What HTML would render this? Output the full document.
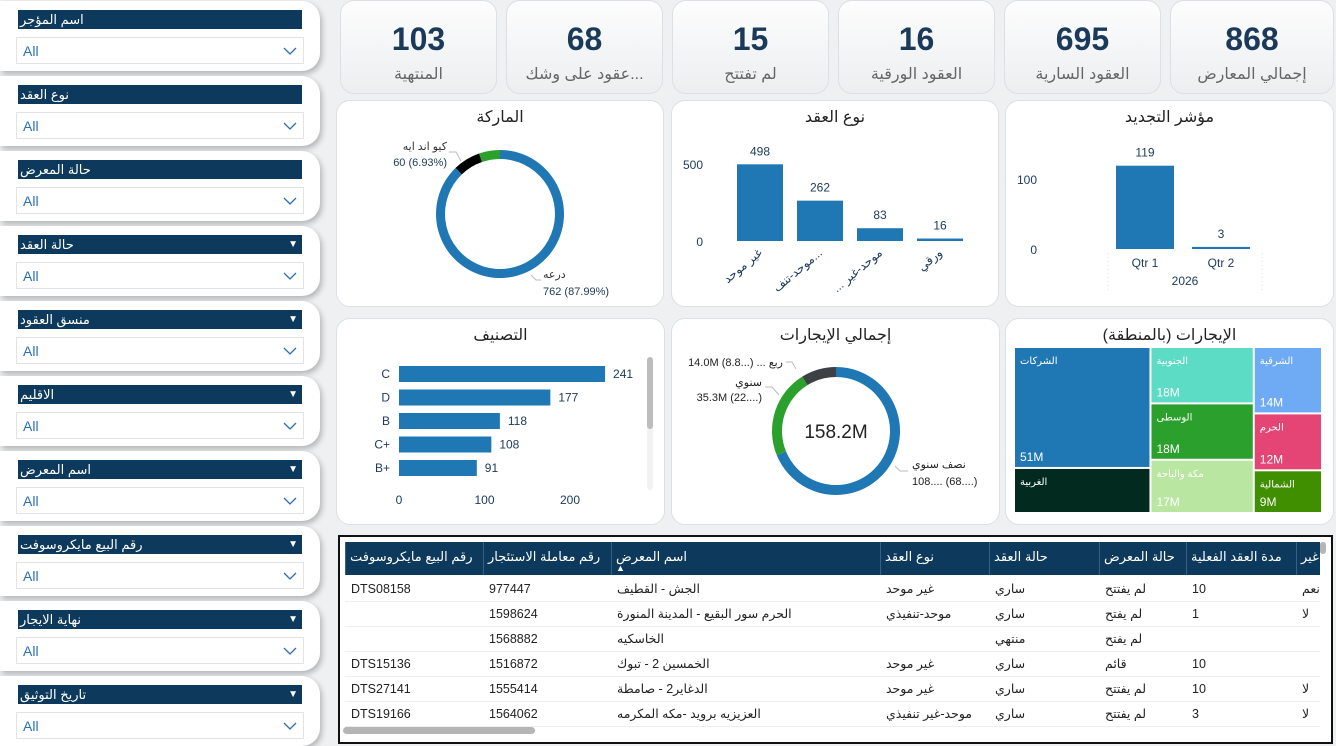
<!DOCTYPE html>
<html lang="ar"><head><meta charset="utf-8">
<style>
*{box-sizing:border-box;margin:0;padding:0}
body{width:1336px;height:745px;overflow:hidden;background:#eef0f2;font-family:"Liberation Sans","DejaVu Sans",sans-serif;position:relative}
.fcard{position:absolute;left:0;width:320px;height:70px;background:#fff;border-radius:0 18px 18px 0;box-shadow:2px 3px 6px rgba(0,0,0,.25)}
.fhead{position:absolute;left:18px;top:9px;width:284px;height:19px;background:#0d3a5c;color:#fff;font-size:13px;line-height:19px;padding-left:2px;direction:rtl;text-align:left}
.fhead .chev{position:absolute;right:4px;top:0;font-size:10px}
.fdrop{position:absolute;left:16px;top:36px;width:288px;height:27px;border:1px solid #e3e3e3;background:#fff;color:#2a6fb5;font-size:14px;line-height:27px;padding-left:6px}
.fdrop svg{position:absolute;right:6px;top:9px}
.kpi{position:absolute;top:0;height:94px;background:linear-gradient(#fdfdfd,#eceef0);border:1px solid #dcdfe3;border-radius:14px;text-align:center}
.kpi .v{position:absolute;left:0;right:0;top:20px;font-size:32px;font-weight:bold;color:#1b3a5a}
.kpi .l{position:absolute;left:0;right:0;top:63px;font-size:16px;color:#666;direction:rtl}
.card{position:absolute;background:#fff;border:1px solid #dcdfe3;border-radius:14px}
.ttl{position:absolute;left:0;right:0;top:6px;text-align:center;font-size:16px;color:#222;direction:rtl}
#table{position:absolute;left:338px;top:535px;width:995px;height:209px;border:2px solid #111;background:#fff;overflow:hidden}
#chartsvg{position:absolute;left:0;top:0}
</style></head><body>
<div id="filters"></div>
<div id="kpis"></div>

<div class="card" style="left:336px;top:100px;width:328px;height:207px"><div class="ttl">الماركة</div></div>
<div class="card" style="left:671px;top:100px;width:328px;height:207px"><div class="ttl">نوع العقد</div></div>
<div class="card" style="left:1005px;top:100px;width:329px;height:207px"><div class="ttl">مؤشر التجديد</div></div>
<div class="card" style="left:336px;top:318px;width:329px;height:207px"><div class="ttl">التصنيف</div></div>
<div class="card" style="left:671px;top:318px;width:329px;height:207px"><div class="ttl">إجمالي الإيجارات</div></div>
<div class="card" style="left:1005px;top:318px;width:329px;height:207px"><div class="ttl">الإيجارات (بالمنطقة)</div></div>

<svg id="chartsvg" width="1336" height="745"></svg>

<div id="table"></div>

<script>
const NS="http://www.w3.org/2000/svg";
const svg=document.getElementById('chartsvg');
function el(tag,attrs,parent,text){const e=document.createElementNS(NS,tag);for(const k in attrs)e.setAttribute(k,attrs[k]);if(text!==undefined)e.textContent=text;(parent||svg).appendChild(e);return e;}

/* ---------- filters ---------- */
const filterTitles=["اسم المؤجر","نوع العقد","حالة المعرض","حالة العقد","منسق العقود","الاقليم","اسم المعرض","رقم البيع مايكروسوفت","نهاية الايجار","تاريخ التوثيق"];
const filterChev=[false,false,false,true,true,true,true,true,true,true];
const fp=document.getElementById('filters');
filterTitles.forEach((t,i)=>{
  const c=document.createElement('div');c.className='fcard';c.style.top=(i*75+1)+'px';
  
  
  c.innerHTML='<div class="fhead">'+t+(filterChev[i]?'<span class="chev">▼</span>':'')+'</div>';
  const d=document.createElement('div');d.className='fdrop';
  
  
  d.innerHTML='All<svg width="14" height="8"><polyline points="1,1 7,7 13,1" fill="none" stroke="#2a6fb5" stroke-width="1.3"/></svg>';
  c.appendChild(d);fp.appendChild(c);
});

/* ---------- KPIs ---------- */
const kpiLabels=["المنتهية","...عقود على وشك","لم تفتتح","العقود الورقية","العقود السارية","إجمالي المعارض"];
const kpiValues=[103,68,15,16,695,868];
const kpiX=[340,506,672,838,1004,1170];
const kp=document.getElementById('kpis');
kpiLabels.forEach((l,i)=>{
  const c=document.createElement('div');c.className='kpi';c.style.left=kpiX[i]+'px';c.style.width=(i==5?164:157)+'px';
  
  
  c.innerHTML='<div class="v">'+kpiValues[i]+'</div><div class="l">'+l+'</div>';
  kp.appendChild(c);
});

/* ---------- donut helper ---------- */
function arcPath(cx,cy,r1,r0,a0,a1){
  const p=(r,a)=>[cx+r*Math.sin(a),cy-r*Math.cos(a)];
  const large=(a1-a0)>Math.PI?1:0;
  const [x1,y1]=p(r1,a0),[x2,y2]=p(r1,a1),[x3,y3]=p(r0,a1),[x4,y4]=p(r0,a0);
  return `M${x1},${y1}A${r1},${r1} 0 ${large} 1 ${x2},${y2}L${x3},${y3}A${r0},${r0} 0 ${large} 0 ${x4},${y4}Z`;
}
function donut(cx,cy,r1,r0,vals,cols,name){
  const tot=vals.reduce((a,b)=>a+b,0);let a=0;
  vals.forEach((v,i)=>{const s=v/tot*2*Math.PI;
    const p=el('path',{d:arcPath(cx,cy,r1,r0,a,a+s),fill:cols[i]});
    
    
    a+=s;});
}

/* ---------- brand donut ---------- */
const brandNames=["درعه","كيو اند ايه","أخرى"];
const brandValues=[762,60,46];
donut(500,214,64,55,brandValues,["#1f77b4","#000","#2ca02c"],'brand');
el('polyline',{points:"449,152 456,152 461,161",fill:"none",stroke:"#bbb"});
el('polyline',{points:"531,275 536,280 541,280",fill:"none",stroke:"#bbb"});
el('text',{x:447,y:150,'text-anchor':'end','font-size':11,fill:'#333'},null,brandNames[1]);
el('text',{x:447,y:166,'text-anchor':'end','font-size':11,fill:'#1b3a5a'},null,brandValues[1]+" (6.93%)");
el('text',{x:543,y:278,'font-size':11,fill:'#333'},null,brandNames[0]);
el('text',{x:543,y:295,'font-size':11,fill:'#1b3a5a'},null,brandValues[0]+" (87.99%)");

/* ---------- contract type bars ---------- */
const ctCats=["غير موحد","موحد-تنف...","... موحد-غير","ورقي"];
const ctVals=[498,262,83,16];
const ctTicks=[0,500];
{const y0=241,k=77/500,x0=737,step=60,w=46;
 const ys=v=>y0-v*k;
 ctTicks.forEach(t=>el('text',{x:703,y:ys(t)+5,'text-anchor':'end','font-size':12,fill:'#1b3a5a'},null,t));
 ctVals.forEach((v,i)=>{const x=x0+i*step;
  const r=el('rect',{x:x,y:ys(v),width:w,height:v*k,fill:'#1f77b4'});
  
  
  el('text',{x:x+w/2,y:ys(v)-9,'text-anchor':'middle','font-size':12,fill:'#1b3a5a'},null,v);
  el('text',{x:x+w/2+3,y:254,'text-anchor':'end','font-size':12,fill:'#1b3a5a',transform:`rotate(-40 ${x+w/2+3} 254)`},null,ctCats[i]);
 });}

/* ---------- renewal bars ---------- */
const rnCats=["Qtr 1","Qtr 2"];
const rnVals=[119,3];
const rnTicks=[0,100];
{const y0=249,k=0.7,x0=1116,step=76,w=58;
 const ys=v=>y0-v*k;
 rnTicks.forEach(t=>el('text',{x:1037,y:ys(t)+5,'text-anchor':'end','font-size':12,fill:'#1b3a5a'},null,t));
 rnVals.forEach((v,i)=>{const x=x0+i*step;
  const r=el('rect',{x:x,y:ys(v),width:w,height:Math.max(v*k,2),fill:'#1f77b4'});
  
  
  el('text',{x:x+w/2,y:ys(v)-9,'text-anchor':'middle','font-size':12,fill:'#1b3a5a'},null,v);
  el('text',{x:x+w/2,y:267,'text-anchor':'middle','font-size':12,fill:'#1b3a5a'},null,rnCats[i]);
 });
 el('text',{x:1185,y:285,'text-anchor':'middle','font-size':12,fill:'#1b3a5a'},null,"2026");
 el('line',{x1:1108,y1:253,x2:1108,y2:292,stroke:'#ddd','stroke-dasharray':'1,3'});
 el('line',{x1:1262,y1:253,x2:1262,y2:292,stroke:'#ddd','stroke-dasharray':'1,3'});
}

/* ---------- rating hbars ---------- */
const rtCats=["C","D","B","C+","B+"];
const rtVals=[241,177,118,108,91];
const rtTicks=[0,100,200];
{const x0=399,k=0.855,y0=374,step=23.5,h=16;
 rtTicks.forEach(t=>el('text',{x:x0+t*k,y:504,'text-anchor':'middle','font-size':12,fill:'#1b3a5a'},null,t));
 rtVals.forEach((v,i)=>{const yc=y0+i*step;
  const r=el('rect',{x:x0,y:yc-h/2,width:v*k,height:h,fill:'#1f77b4'});
  
  
  el('text',{x:390,y:yc+4,'text-anchor':'end','font-size':12,fill:'#1b3a5a'},null,rtCats[i]);
  el('text',{x:x0+v*k+8,y:yc+4,'font-size':12,fill:'#1b3a5a'},null,v);
 });
 el('rect',{x:647,y:357,width:6,height:133,rx:3,fill:'#f2f2f2'});
 el('rect',{x:647,y:357,width:6,height:72,rx:3,fill:'#bdbdbd'});
}

/* ---------- rentals donut ---------- */
const rentNames=["نصف سنوي","سنوي","ربع"];
const rentVals=[108.9,35.3,14.0];
donut(836,431,64,54,rentVals,["#1f77b4","#2ca02c","#3d4145"],'rentals');
el('text',{x:836,y:438,'text-anchor':'middle','font-size':19,fill:'#222'},null,rentVals.reduce((a,b)=>a+b,0).toFixed(1)+"M");
el('text',{x:783,y:366,'text-anchor':'end','font-size':11,fill:'#222'},null,rentVals[2].toFixed(1)+"M (8.8...) ... "+rentNames[2]);
el('text',{x:762,y:386,'text-anchor':'end','font-size':11,fill:'#222'},null,rentNames[1]);
el('text',{x:762,y:401,'text-anchor':'end','font-size':11,fill:'#222'},null,rentVals[1].toFixed(1)+"M (22....)");
el('text',{x:912,y:468,'font-size':11,fill:'#222'},null,rentNames[0]);
el('text',{x:912,y:485,'font-size':11,fill:'#222'},null,"108.... (68....)");
el('polyline',{points:"786,362 792,362 796,369",fill:"none",stroke:"#bbb"});
el('polyline',{points:"765,387 772,387 779,395",fill:"none",stroke:"#bbb"});
el('polyline',{points:"895,466 900,471 908,471",fill:"none",stroke:"#bbb"});

/* ---------- treemap ---------- */
const tmNames=[["الشركات","الغربية"],["الجنوبية","الوسطى","مكة والباحة"],["الشرقية","الحرم","الشمالية"]];
const tmVals=[[51,19],[18,18,17],[14,12,9]];
const tmCols=[["#1f77b4","#032a1e"],["#5cdbc5","#2ca02c","#b9e6a0"],["#6faaf5","#e44575","#3f8f00"]];
const tmLabels=[["51M",""],["18M","18M","17M"],["14M","12M","9M"]];
{const X=1015,Y=348,W=308,H=166,gap=2;
 const tot=tmVals.flat().reduce((a,b)=>a+b,0);let x=X;
 tmVals.forEach((col,ci)=>{const cs=col.reduce((a,b)=>a+b,0);const w=W*cs/tot;let y=Y;
  col.forEach((v,ri)=>{const h=H*v/cs;
   const r=el('rect',{x:x,y:y,width:w-gap,height:h-gap,fill:tmCols[ci][ri]});
   
   
   el('text',{x:x+5,y:y+16,'font-size':10,fill:'#fff'},null,tmNames[ci][ri]);
   if(tmLabels[ci][ri])el('text',{x:x+5,y:y+h-8,'font-size':12,fill:'#fff'},null,tmLabels[ci][ri]);
   y+=h;});
  x+=w;});
}

/* ---------- table ---------- */
const headers=["رقم البيع مايكروسوفت","رقم معاملة الاستئجار","اسم المعرض","نوع العقد","حالة العقد","حالة المعرض","مدة العقد الفعلية","غير"];
const colX=[5,143,271,540,649,759,846,956];
const colW=[138,128,269,109,110,87,110,30];
const rows=[
["DTS08158","977447","الجش - القطيف","غير موحد","ساري","لم يفتتح","10","نعم"],
["","1598624","الحرم سور البقيع - المدينة المنورة","موحد-تنفيذي","ساري","لم يفتح","1","لا"],
["","1568882","الخاسكيه","","منتهي","لم يفتح","",""],
["DTS15136","1516872","الخمسين 2 - تبوك","غير موحد","ساري","قائم","10",""],
["DTS27141","1555414","الدغاير2 - صامطة","غير موحد","ساري","لم يفتتح","10","لا"],
["DTS19166","1564062","العزيزيه برويد -مكه المكرمه","موحد-غير تنفيذي","ساري","لم يفتتح","3","لا"]];
const tb=document.getElementById('table');
let html='<div style="position:absolute;left:5px;top:5px;width:975px;height:33px;background:#0d3a5c"></div>';
headers.forEach((h,i)=>{html+=`<div style="position:absolute;top:5px;left:${colX[i]}px;width:${colW[i]}px;height:33px;line-height:30px;color:#fff;font-size:13px;padding-left:4px;white-space:nowrap;overflow:hidden;border-left:1px solid #3b5f80"><span style="direction:rtl;unicode-bidi:embed">${h}</span></div>`;});
html+='<div style="position:absolute;left:276px;top:26px;color:#fff;font-size:9px">▲</div>';
rows.forEach((r,ri)=>{const y=40+ri*25;
 html+=`<div style="position:absolute;left:5px;top:${y}px;width:975px;height:25px;border-bottom:1px solid #eee"></div>`;
 r.forEach((c,ci)=>{if(!c)return;
  html+=`<div style="position:absolute;top:${y}px;left:${colX[ci]}px;width:${colW[ci]}px;height:25px;line-height:25px;font-size:12.5px;color:#222;padding-left:6px;white-space:nowrap;overflow:hidden"><span style="direction:rtl;unicode-bidi:embed">${c}</span></div>`;});
});
html+='<div style="position:absolute;left:3px;top:190px;width:192px;height:7px;border-radius:4px;background:#b5b5b5"></div>';
html+='<div style="position:absolute;left:980px;top:5px;width:6px;height:12px;border-radius:3px;background:#b5b5b5"></div>';
tb.innerHTML=html;
</script>
</body></html>
